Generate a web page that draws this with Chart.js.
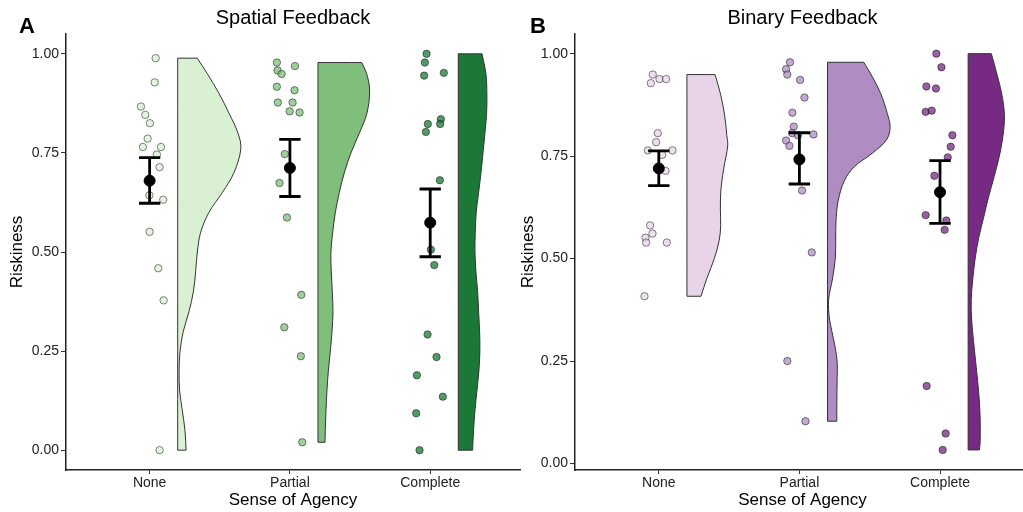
<!DOCTYPE html>
<html>
<head>
<meta charset="utf-8">
<script src="https://cdn.jsdelivr.net/npm/chart.js@4.4.0/dist/chart.umd.min.js"></script>
<style>
    html, body { margin: 0; padding: 0; background: #fff; overflow: hidden; }
    #wrap { position: relative; width: 1023px; height: 512px; overflow: hidden; }
    #wrap canvas { position: absolute; top: 0; }
    #chartA { left: 0; }
    #chartB { left: 511px; }
</style>
</head>
<body>
<div id="wrap">
    <canvas id="chartA" width="521" height="512"></canvas>
    <canvas id="chartB" width="521" height="512"></canvas>
</div>
<script>
// ---------- data ----------
const categories = ['None', 'Partial', 'Complete'];
const yTickValues = [0, 0.25, 0.5, 0.75, 1];

// Spatial feedback: raw points (riskiness) and their horizontal jitter
const spatialPoints = [
    [0.989, 0.928, 0.867, 0.846, 0.825, 0.786, 0.765, 0.765, 0.746, 0.714, 0.643, 0.632, 0.551, 0.459, 0.378, 0.0],
    [0.978, 0.969, 0.958, 0.949, 0.917, 0.908, 0.877, 0.877, 0.855, 0.852, 0.747, 0.674, 0.587, 0.392, 0.310, 0.237, 0.020],
    [1.0, 0.978, 0.952, 0.945, 0.835, 0.823, 0.823, 0.803, 0.681, 0.506, 0.467, 0.292, 0.235, 0.189, 0.135, 0.093, 0.0]
];
const spatialJitter = [
    [0.043, 0.036, -0.062, -0.031, 0.002, -0.014, -0.048, 0.081, 0.052, 0.071, -0.002, 0.097, 0.0, 0.062, 0.100, 0.071],
    [-0.093, 0.036, -0.088, -0.059, -0.093, 0.033, -0.086, 0.019, -0.002, 0.069, -0.036, -0.074, -0.021, 0.081, -0.040, 0.078, 0.088],
    [-0.026, -0.038, 0.097, -0.043, 0.076, -0.017, 0.071, -0.031, 0.069, 0.005, 0.029, -0.019, 0.045, -0.095, 0.090, -0.100, -0.076]
];
const spatialMean = [0.680, 0.712, 0.574];
const spatialLow = [0.623, 0.640, 0.488];
const spatialHigh = [0.738, 0.784, 0.659];

// half-violin outline: riskiness levels and density widths (x units)
const spatialViolinY = [
    [0.989, 0.95, 0.90, 0.85, 0.80, 0.76, 0.70, 0.65, 0.60, 0.55, 0.50, 0.45, 0.40, 0.35, 0.30, 0.25, 0.20, 0.15, 0.10, 0.05, 0.0],
    [0.978, 0.95, 0.908, 0.85, 0.80, 0.75, 0.70, 0.65, 0.60, 0.55, 0.50, 0.45, 0.40, 0.35, 0.30, 0.25, 0.20, 0.15, 0.10, 0.05, 0.02],
    [1.0, 0.95, 0.90, 0.85, 0.80, 0.75, 0.70, 0.65, 0.60, 0.55, 0.50, 0.45, 0.40, 0.35, 0.30, 0.25, 0.20, 0.15, 0.10, 0.05, 0.0]
];
const spatialViolinW = [
    [0.14, 0.211, 0.295, 0.366, 0.430, 0.450, 0.401, 0.318, 0.223, 0.164, 0.140, 0.128, 0.112, 0.081, 0.040, 0.017, 0.010, 0.014, 0.033, 0.052, 0.060],
    [0.312, 0.347, 0.368, 0.349, 0.295, 0.235, 0.188, 0.152, 0.124, 0.105, 0.092, 0.095, 0.102, 0.107, 0.100, 0.088, 0.074, 0.064, 0.057, 0.052, 0.050],
    [0.169, 0.197, 0.204, 0.202, 0.190, 0.176, 0.162, 0.145, 0.128, 0.121, 0.119, 0.126, 0.138, 0.145, 0.152, 0.154, 0.147, 0.133, 0.119, 0.109, 0.102]
];

// Binary feedback
const binaryPoints = [
    [0.949, 0.928, 0.938, 0.938, 0.806, 0.784, 0.764, 0.764, 0.753, 0.714, 0.581, 0.561, 0.551, 0.539, 0.539, 0.408],
    [0.979, 0.962, 0.949, 0.936, 0.893, 0.856, 0.822, 0.806, 0.803, 0.801, 0.788, 0.775, 0.666, 0.515, 0.250, 0.103],
    [1.0, 0.967, 0.920, 0.915, 0.858, 0.861, 0.801, 0.773, 0.747, 0.702, 0.606, 0.593, 0.570, 0.189, 0.073, 0.033]
];
const binaryJitter = [
    [-0.043, -0.057, 0.005, 0.052, -0.007, -0.019, -0.078, 0.097, 0.024, 0.048, -0.062, -0.045, -0.095, -0.090, 0.057, -0.102],
    [-0.067, -0.095, -0.086, 0.005, 0.036, -0.050, -0.040, -0.052, 0.100, -0.010, -0.095, -0.071, 0.019, 0.088, -0.086, 0.043],
    [-0.026, 0.010, -0.097, -0.029, -0.102, -0.059, 0.088, 0.076, 0.055, -0.040, -0.102, 0.045, 0.033, -0.095, 0.040, 0.019]
];
const binaryMean = [0.720, 0.742, 0.662];
const binaryLow = [0.678, 0.682, 0.586];
const binaryHigh = [0.763, 0.807, 0.739];

const binaryViolinY = [
    [0.949, 0.90, 0.85, 0.80, 0.775, 0.72, 0.67, 0.62, 0.58, 0.545, 0.50, 0.45, 0.408],
    [0.979, 0.944, 0.903, 0.854, 0.82, 0.79, 0.757, 0.724, 0.69, 0.64, 0.59, 0.545, 0.50, 0.45, 0.40, 0.35, 0.30, 0.25, 0.20, 0.15, 0.103],
    [1.0, 0.95, 0.90, 0.85, 0.80, 0.75, 0.70, 0.65, 0.60, 0.55, 0.50, 0.45, 0.40, 0.35, 0.30, 0.25, 0.20, 0.15, 0.10, 0.05, 0.033]
];
const binaryViolinW = [
    [0.200, 0.240, 0.268, 0.284, 0.290, 0.262, 0.242, 0.238, 0.240, 0.230, 0.195, 0.140, 0.100],
    [0.258, 0.318, 0.378, 0.425, 0.445, 0.420, 0.318, 0.190, 0.120, 0.075, 0.060, 0.058, 0.055, 0.035, 0.008, 0.015, 0.045, 0.068, 0.068, 0.066, 0.066],
    [0.165, 0.205, 0.240, 0.258, 0.248, 0.222, 0.185, 0.145, 0.110, 0.075, 0.050, 0.033, 0.022, 0.025, 0.038, 0.053, 0.068, 0.080, 0.086, 0.085, 0.080]
];

const spatialColors = ['#d9f0d3', '#7fbf7b', '#1b7837'];
const binaryColors = ['#e7d4e8', '#af8dc3', '#762a83'];

// ---------- drawing ----------
Chart.defaults.font.family = '"Liberation Sans", Arial, sans-serif';
Chart.defaults.color = '#222';

const violinOffset = 0.2;
const capHalf = 0.076;

// outline of one half violin, corners duplicated so they stay sharp
function violinPath(cat, levels, widths) {
    const base = cat + violinOffset;
    const top = levels[0];
    const bottom = levels[levels.length - 1];
    const pts = [{ x: base, y: top }];
    levels.forEach((y, i) => {
        pts.push({ x: base + widths[i], y: y });
        if (i === 0 || i === levels.length - 1) pts.push({ x: base + widths[i], y: y });
    });
    pts.push({ x: base, y: bottom }, { x: base, y: bottom }, { x: base, y: top });
    return pts;
}

function errorBarPath(mean, low, high) {
    const pts = [];
    mean.forEach((m, i) => {
        const c = i + 1;
        pts.push({ x: c - capHalf, y: high[i] }, { x: c + capHalf, y: high[i] }, { x: null, y: null });
        pts.push({ x: c, y: high[i] }, { x: c, y: low[i] }, { x: null, y: null });
        pts.push({ x: c - capHalf, y: low[i] }, { x: c + capHalf, y: low[i] }, { x: null, y: null });
    });
    return pts;
}

const panelLetter = {
    id: 'panelLetter',
    afterDraw(chart, args, opts) {
        const ctx = chart.ctx;
        ctx.save();
        ctx.font = 'bold 22px "Liberation Sans", Arial, sans-serif';
        ctx.fillStyle = '#000';
        ctx.textBaseline = 'alphabetic';
        ctx.fillText(opts.text, 19, 33);
        ctx.restore();
    }
};

function buildPanel(cfg) {
    const datasets = [];

    cfg.violinY.forEach((levels, i) => {
        datasets.push({
            data: violinPath(i + 1, levels, cfg.violinW[i]),
            showLine: true,
            fill: 'shape',
            backgroundColor: cfg.colors[i],
            borderColor: '#333',
            borderWidth: 1,
            tension: 0.35,
            pointRadius: 0,
            order: 4
        });
    });

    cfg.points.forEach((ys, i) => {
        datasets.push({
            data: ys.map((y, j) => ({ x: i + 1 + cfg.jitter[i][j], y: y })),
            backgroundColor: cfg.colors[i] + 'bf',
            borderColor: 'rgba(0,0,0,0.6)',
            borderWidth: 0.8,
            pointRadius: 3.7,
            order: 3
        });
    });

    datasets.push({
        data: errorBarPath(cfg.mean, cfg.low, cfg.high),
        showLine: true,
        spanGaps: false,
        borderColor: '#000',
        borderWidth: 2.8,
        pointRadius: 0,
        order: 2
    });

    datasets.push({
        data: cfg.mean.map((m, i) => ({ x: i + 1, y: m })),
        backgroundColor: '#000',
        borderColor: '#000',
        pointRadius: 5.5,
        order: 1
    });

    new Chart(document.getElementById(cfg.id), {
        type: 'scatter',
        data: { datasets },
        plugins: [panelLetter],
        options: {
            responsive: false,
            animation: false,
            layout: { autoPadding: false, padding: { left: 0, right: cfg.padRight, top: 0, bottom: 0 } },
            plugins: {
                legend: { display: false },
                tooltip: { enabled: false },
                panelLetter: { text: cfg.letter },
                title: {
                    display: true,
                    text: cfg.title,
                    fullSize: false,
                    color: '#000',
                    font: { size: 20, weight: 'normal' },
                    padding: { top: 6, bottom: 4 }
                }
            },
            scales: {
                x: {
                    type: 'linear',
                    min: 0.404,
                    max: 3.64,
                    afterBuildTicks: s => { s.ticks = categories.map((c, i) => ({ value: i + 1 })); },
                    afterFit: s => { s.height = 42; },
                    ticks: {
                        callback: v => categories[Math.round(v) - 1],
                        font: { size: 14 },
                        color: '#222',
                        padding: 1,
                        autoSkip: false,
                        maxRotation: 0
                    },
                    grid: { drawOnChartArea: false, drawTicks: true, tickLength: 4, color: '#333' },
                    border: { display: true, color: '#222', width: 1.5 },
                    title: { display: true, text: 'Sense of Agency', color: '#000', font: { size: 17 }, padding: { top: 0, bottom: 1 } }
                },
                y: {
                    min: cfg.ymin,
                    max: cfg.ymax,
                    afterBuildTicks: s => { s.ticks = yTickValues.map(v => ({ value: v })); },
                    afterFit: s => { s.width = cfg.yAxisWidth; },
                    ticks: {
                        callback: v => v.toFixed(2),
                        font: { size: 14 },
                        color: '#222',
                        padding: 2
                    },
                    grid: { drawOnChartArea: false, drawTicks: true, tickLength: 5, color: '#333' },
                    border: { display: true, color: '#222', width: 1.5 },
                    title: { display: true, text: 'Riskiness', color: '#000', font: { size: 17 }, padding: { top: 7, bottom: 0 } }
                }
            }
        }
    });
}

buildPanel({
    id: 'chartA', letter: 'A', title: 'Spatial Feedback',
    ymin: -0.05, ymax: 1.05, yAxisWidth: 66, padRight: 1,
    points: spatialPoints, jitter: spatialJitter,
    mean: spatialMean, low: spatialLow, high: spatialHigh,
    violinY: spatialViolinY, violinW: spatialViolinW, colors: spatialColors
});

buildPanel({
    id: 'chartB', letter: 'B', title: 'Binary Feedback',
    ymin: -0.016, ymax: 1.048, yAxisWidth: 64, padRight: 2,
    points: binaryPoints, jitter: binaryJitter,
    mean: binaryMean, low: binaryLow, high: binaryHigh,
    violinY: binaryViolinY, violinW: binaryViolinW, colors: binaryColors
});
</script>
</body>
</html>
